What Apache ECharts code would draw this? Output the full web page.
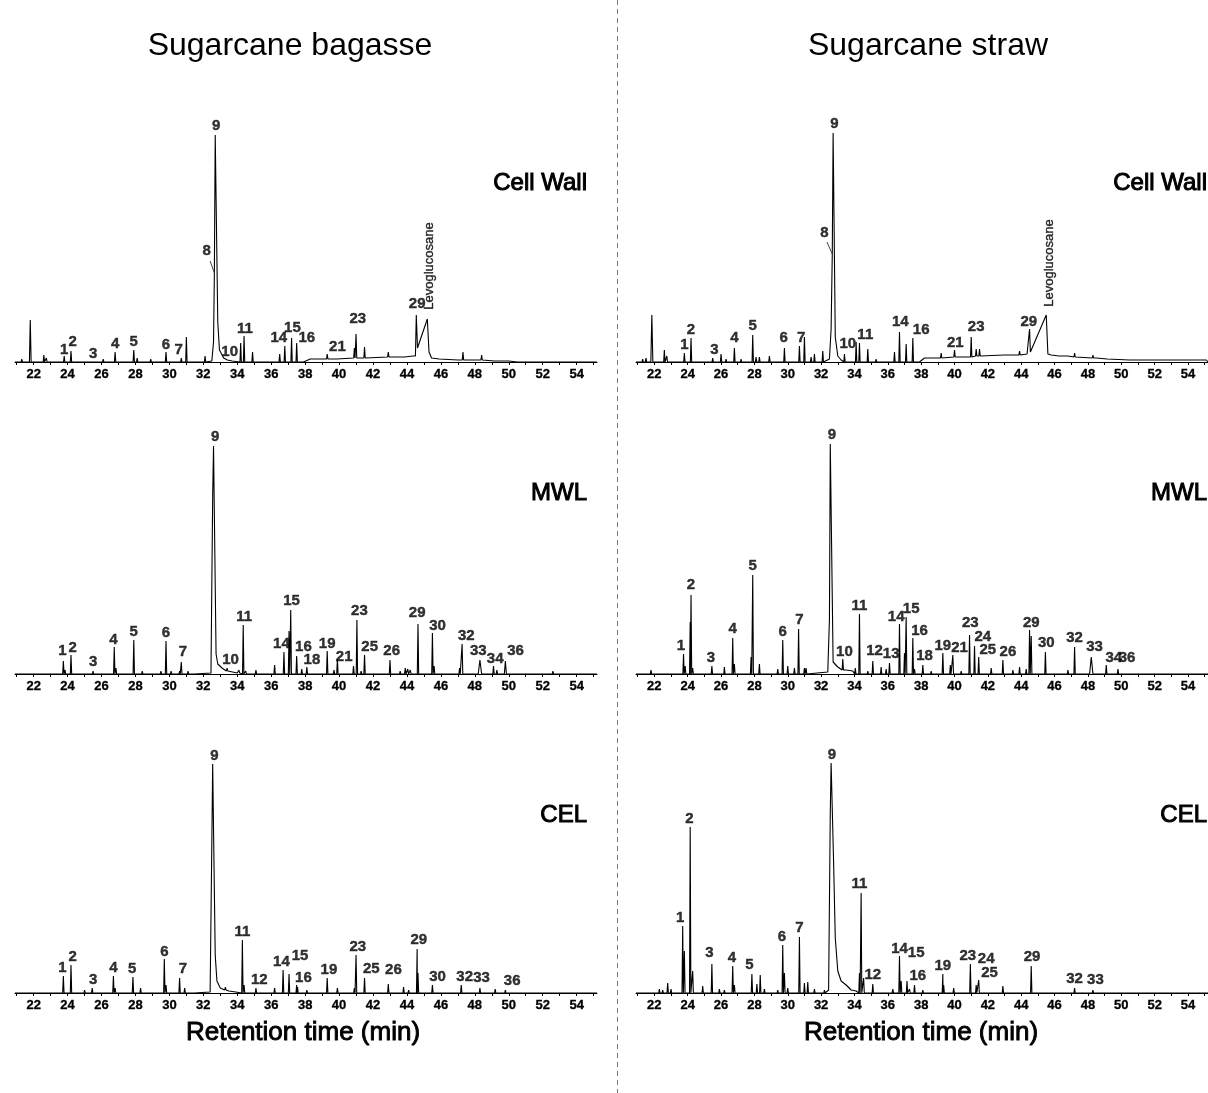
<!DOCTYPE html>
<html lang="en">
<head>
<meta charset="UTF-8">
<title>Py-GC/MS chromatograms - sugarcane bagasse and straw</title>
<script src="https://cdn.jsdelivr.net/npm/echarts@6.0.0/dist/echarts.min.js"></script>
<style>
  body { margin: 0; background: #fff; }
  #main { width: 1208px; height: 1093px; }
</style>
</head>
<body>
<div id="main"></div>
<script>
// retention time axis (min)
const X_MIN = 20.9, X_MAX = 55.2;
const TICKS = [22, 24, 26, 28, 30, 32, 34, 36, 38, 40, 42, 44, 46, 48, 50, 52, 54];

// peaks: [time, height, base, halfWidth] ; shape: explicit trace vertices [time, height]
// heights are in px above the trace baseline of each panel

// Sugarcane bagasse - Cell Wall
const bwPeaks = [[21.3,3],[21.8,42,0,0.05],[22.6,7],[22.75,4],[23.8,6],[24.2,11],[25.5,2],[26.1,3],[26.3,2],[26.8,10],[27.2,2],[27.9,12],[28.1,4],[28.3,2],[28.9,3],[29.8,10],[30.3,2],[30.7,4],[31.0,25],[31.4,2],[32.1,6],
  [33.45,3,2],[34.2,19],[34.4,26],[34.9,10],[35.3,2],[36.5,8],[36.8,16],[37.2,24],[37.5,19],
  [39.3,8,3],[39.45,5,3],[39.9,5,3],[40.9,14,4],[41.0,28,4],[41.5,15,4],[42.9,10,5],[43.9,6,5],
  [47.3,10,2],[48.4,7,2],[49.2,3,1],[49.9,2,1]];
const bwShape = [[32.5,1],[32.6,20],[32.65,89],[32.7,227],[32.8,227],[32.85,40],[32.95,12],[33.2,4],[33.7,1],
  [37.9,0],[38.3,3],[41.6,4],[44.35,6],[44.5,6],[44.55,47],[44.62,14],[45.2,43],[45.3,10],[45.45,4],[45.9,3],[47,2],[50,1],[50.5,0]];
const bwLabels = [['1',23.8,12],['2',24.3,20],['3',25.5,8],['4',26.8,18],['5',27.9,20],['6',29.8,17],['7',30.55,12],['8',32.2,111],['9',32.75,236],['10',33.55,10],['11',34.45,33],['14',36.45,24],['15',37.25,34],['16',38.1,24],['21',39.9,15],['23',41.1,43],['29',44.6,58],['Levoglucosane',45.3,96,90]];
const bwLeader = [[32.4,101],[32.65,89]];

// Sugarcane straw - Cell Wall
const swPeaks = [[21.3,3],[21.5,4],[21.85,47,0,0.06],[22.6,12],[22.75,6],[23.2,2],[23.8,9],[24.2,24],[25.0,2],[25.5,4],[26.0,8],[26.3,3],[26.8,14],[27.2,3],[27.9,27],[28.1,5],[28.3,5],[28.9,6],[29.8,14],[30.3,2],[30.7,16],[31.0,25],[31.4,5],[31.6,8],[32.1,11],
  [33.4,8],[34.1,20],[34.3,19],[34.8,13],[35.3,3],[36.4,10],[36.7,30],[37.1,18],[37.5,24],
  [39.2,9,4],[40.0,12,5],[41.0,25,5],[41.3,13,6],[41.5,13,6],[43.0,9,7],[43.9,11,7],
  [46.3,8,6],[47.2,9,5],[48.3,7,4],[49.2,5,3]];
const swShape = [[32.5,3],[32.6,33],[32.67,108],[32.72,229],[32.8,229],[32.85,25],[33.0,6],[33.2,2],
  [37.9,0],[38.2,4],[41.6,6],[44.35,8],[44.5,33],[44.55,10],[45.5,47],[45.6,8],[45.8,7],[46.8,6],[48.5,4],[50.5,2],[55.1,2]];
const swLabels = [['1',23.8,17],['2',24.2,32],['3',25.6,12],['4',26.8,24],['5',27.9,36],['6',29.75,24],['7',30.8,24],['8',32.2,129],['9',32.8,238],['10',33.6,18],['11',34.65,27],['14',36.75,40],['16',38.0,32],['21',40.05,19],['23',41.3,35],['29',44.45,40],['Levoglucosane',45.7,99,90]];
const swLeader = [[32.35,120],[32.67,108]];

// Sugarcane bagasse - MWL
const bmPeaks = [[21.7,1],[22.9,1],[23.75,13],[23.85,4],[24.2,19],[25.1,2],[25.5,3],[26.2,1],[26.75,27],[26.85,6],[27.6,1],[27.9,34],[28.4,3],[28.7,1],[29.5,3],[29.8,33],[30.1,3],[30.6,3],[30.7,12],[31.1,3],[31.5,1],
  [33.4,6,3],[34.1,4,1],[34.35,49],[34.5,3],[35.1,4],[35.6,2],[36.0,2],[36.2,9],[36.75,22],[37.05,43],[37.15,64],[37.5,18],[37.8,5],[38.1,7],[38.6,1],[39.3,23],[39.7,4],[39.9,15],[40.85,8],[41.05,54],[41.3,3],[41.5,19],[42.3,2],[42.8,2],[43.0,14],[43.6,3],[43.9,6],[44.05,5],[44.2,4],[44.65,50],[45.5,41],[45.6,8],[46.9,2],[47.1,6],[47.25,30],[48.3,14,0,0.1],[49.1,8],[49.3,4],[49.8,13,0,0.06],[50.9,2],[52.6,3],[54.4,2],[54.55,2]];
const bmShape = [[32.45,1],[32.55,177],[32.6,228],[32.68,228],[32.75,20],[32.85,10],[33.1,6],[33.55,3],[34.0,1]];
const bmLabels = [['1',23.7,23],['2',24.3,26],['3',25.5,12],['4',26.7,34],['5',27.9,42],['6',29.8,41],['7',30.8,22],['9',32.7,237],['10',33.6,14],['11',34.4,57],['14',36.6,30],['15',37.2,73],['16',37.9,27],['18',38.4,14],['19',39.3,30],['21',40.3,17],['23',41.2,63],['25',41.8,27],['26',43.1,23],['29',44.6,61],['30',45.8,48],['32',47.5,38],['33',48.2,23],['34',49.2,15],['36',50.4,23]];

// Sugarcane straw - MWL
const smPeaks = [[21.3,2],[21.8,4],[22.5,1],[23.0,1],[23.75,20],[23.85,8],[24.15,52],[24.2,79],[24.3,6],[25.45,8],[26.2,7],[26.7,36],[26.8,10],[27.4,2],[27.8,17],[27.9,99],[28.3,10],[29.4,5],[29.7,34],[30.0,8],[30.4,6],[30.65,45],[31.0,6],[31.1,6],
  [33.3,15,4],[34.05,6],[34.3,60],[34.8,3],[35.1,13],[35.6,7],[35.9,5],[36.1,11],[36.7,50],[37.0,21],[37.1,57],[37.5,36],[37.6,5],[38.1,9],[38.6,3],[39.3,21],[39.75,9],[39.9,19],[40.4,3],[40.9,39],[41.2,28],[41.45,17],[42.2,6],[42.9,14],[43.5,4],[43.9,7],[44.3,5],[44.5,44],[44.6,38],[45.45,22],[46.8,4],[47.2,27],[48.2,17,0,0.1],[49.1,9],[49.8,5],[51,2],[52.6,1],[53.5,1]];
const smShape = [[32.4,2],[32.5,55],[32.55,230],[32.65,230],[32.72,12],[33.0,7],[33.5,4],[33.9,3]];
const smLabels = [['1',23.6,28],['2',24.2,89],['3',25.4,16],['4',26.7,45],['5',27.9,108],['6',29.7,42],['7',30.7,54],['9',32.65,239],['10',33.4,22],['11',34.3,68],['12',35.2,23],['13',36.2,20],['14',36.5,57],['15',37.4,65],['16',37.9,43],['18',38.2,18],['19',39.3,28],['21',40.3,26],['23',40.95,51],['24',41.7,37],['25',42.0,24],['26',43.2,22],['29',44.6,51],['30',45.5,31],['32',47.2,36],['33',48.4,27],['34',49.55,16],['36',50.35,16]];

// Sugarcane bagasse - CEL
const bcPeaks = [[22.6,2],[22.8,2],[23.75,17],[24.2,28],[25.0,3],[25.45,5],[26.7,17],[26.8,5],[27.85,16],[28.3,5],[29.4,2],[29.7,34],[29.8,8],[30.6,15],[30.9,5],[31.5,1],
  [33.3,6,3],[34.3,53],[34.4,8],[35.1,5],[35.7,2],[36.2,5],[36.7,23],[37.05,19],[37.5,8],[37.55,6],[38.1,3],[39.3,15],[39.9,5],[40.9,5],[41.0,38],[41.5,15],[42.9,9],[43.8,6],[44.1,3],[44.6,44],[44.65,20],[45.5,8],[47.2,8],[48.3,5],[49.2,4],[49.8,3],[54.2,1]];
const bcShape = [[32.4,1],[32.5,150],[32.55,229],[32.62,229],[32.7,38],[32.8,12],[33.0,5],[33.5,2],[33.9,1]];
const bcLabels = [['1',23.7,25],['2',24.3,36],['3',25.5,13],['4',26.7,25],['5',27.8,24],['6',29.7,41],['7',30.8,24],['9',32.65,237],['11',34.3,61],['12',35.3,13],['14',36.6,31],['15',37.7,37],['16',37.9,15],['19',39.4,23],['23',41.1,46],['25',41.9,24],['26',43.2,23],['29',44.7,53],['30',45.8,16],['32',47.4,16],['33',48.4,15],['36',50.2,12]];

// Sugarcane straw - CEL
const scPeaks = [[21.2,1],[21.6,1],[22.3,4],[22.5,3],[22.8,10],[23.0,4],[23.7,67],[23.8,42],[24.15,166],[24.3,22],[24.9,7],[25.45,29],[25.9,4],[26.2,3],[26.7,27],[26.8,8],[27.85,19],[28.15,9],[28.35,18],[28.6,4],[29.4,3],[29.7,48],[29.8,20],[30.0,5],[30.7,56],[31.0,10],[31.2,11],[31.6,4],[32.2,3],
  [34.3,20],[34.4,100],[34.55,15],[35.1,9],[36.3,4],[36.7,37],[36.8,12],[37.15,12],[37.3,4],[37.6,8],[38.1,3],[39.3,19],[39.35,8],[39.95,5],[40.95,29],[41.3,8],[41.45,13],[42.9,7],[44.0,2],[44.6,27],[45.6,2],[47.2,5],[48.3,3],[49.3,2]];
const scShape = [[32.45,3],[32.55,180],[32.6,230],[32.68,230],[32.75,130],[32.85,55],[33.0,22],[33.2,12],[33.35,10],[33.5,8],[33.8,3],[34.1,2]];
const scLabels = [['1',23.55,75],['2',24.1,174],['3',25.3,40],['4',26.65,35],['5',27.7,28],['6',29.65,56],['7',30.7,65],['9',32.65,238],['11',34.3,109],['12',35.1,18],['14',36.7,44],['15',37.7,40],['16',37.8,17],['19',39.3,27],['23',40.8,37],['24',41.9,34],['25',42.1,20],['29',44.65,36],['32',47.2,14],['33',48.45,13]];

const FONT = "'Liberation Sans', Arial, Helvetica, sans-serif";

const panels = [
  { peaks: bwPeaks, shape: bwShape, labels: bwLabels, leader: bwLeader, name: 'Cell Wall', left: 15, axisY: 365 },
  { peaks: swPeaks, shape: swShape, labels: swLabels, leader: swLeader, name: 'Cell Wall', left: 636, axisY: 365 },
  { peaks: bmPeaks, shape: bmShape, labels: bmLabels, name: 'MWL', left: 15, axisY: 677 },
  { peaks: smPeaks, shape: smShape, labels: smLabels, name: 'MWL', left: 636, axisY: 677 },
  { peaks: bcPeaks, shape: bcShape, labels: bcLabels, name: 'CEL', left: 15, axisY: 996 },
  { peaks: scPeaks, shape: scShape, labels: scLabels, name: 'CEL', left: 636, axisY: 996 }
];

function buildTrace(peaks, shape) {
  const pts = [[X_MIN, 0], [X_MAX, 0]];
  peaks.forEach(p => {
    const [t, h, b = 0, w = 0.04] = p;
    pts.push([t - w, b], [t, h], [t + w, b]);
  });
  shape.forEach(p => pts.push(p));
  return pts.sort((a, b) => a[0] - b[0]);
}

const minorTicks = [];
for (let t = 21; t <= 55; t += 1) minorTicks.push(t);

// 1 px per unit vertically: y from -3 to 257 over 260 px
const Y_MIN = -3, Y_MAX = 257, GRID_H = 260;

const grid = [], xAxis = [], yAxis = [], series = [], graphic = [];
panels.forEach((p, i) => {
  grid.push({ left: p.left, top: p.axisY - GRID_H, width: 582, height: GRID_H });
  xAxis.push({
    type: 'value', gridIndex: i, min: X_MIN, max: X_MAX,
    axisLine: { lineStyle: { color: '#000', width: 1 } },
    axisTick: { customValues: minorTicks, length: 3, lineStyle: { color: '#000' } },
    axisLabel: { customValues: TICKS, margin: 3, color: '#000', fontSize: 13, fontWeight: 'bold', fontFamily: FONT, textBorderColor: '#000', textBorderWidth: 0.3 },
    splitLine: { show: false }
  });
  yAxis.push({ type: 'value', gridIndex: i, min: Y_MIN, max: Y_MAX, show: false });
  series.push({
    type: 'line', xAxisIndex: i, yAxisIndex: i, data: buildTrace(p.peaks, p.shape),
    showSymbol: false, silent: true, animation: false,
    lineStyle: { color: '#000', width: 1.1 }
  });
  if (p.leader) {
    series.push({
      type: 'line', xAxisIndex: i, yAxisIndex: i, data: p.leader,
      showSymbol: false, silent: true, animation: false,
      lineStyle: { color: '#444', width: 1 }
    });
  }
  series.push({
    type: 'scatter', xAxisIndex: i, yAxisIndex: i, symbolSize: 1, silent: true, animation: false,
    itemStyle: { color: 'rgba(0,0,0,0)' },
    data: p.labels.map(l => ({
      name: l[0], value: [l[1], l[2]],
      label: l[3] ? { rotate: l[3], fontSize: 13, fontWeight: 'normal', textBorderWidth: 0.4 } : undefined
    })),
    label: {
      show: true, position: 'inside', formatter: '{b}', color: '#000',
      fontSize: 15, fontWeight: 'bold', fontFamily: FONT, textBorderColor: '#000', textBorderWidth: 0.4
    }
  });
  const right = p.left < 600 ? 587 : 1207;
  graphic.push({
    type: 'text', x: right, y: p.axisY - (p.name === 'Cell Wall' ? 182 : p.name === 'MWL' ? 184 : 181),
    style: { text: p.name, align: 'right', verticalAlign: 'middle', font: '24px ' + FONT, fill: '#000', stroke: '#000', lineWidth: 1 }
  });
});

graphic.push(
  { type: 'text', x: 290, y: 46, style: { text: 'Sugarcane bagasse', align: 'center', verticalAlign: 'middle', font: '32px ' + FONT, fill: '#000' } },
  { type: 'text', x: 928, y: 46, style: { text: 'Sugarcane straw', align: 'center', verticalAlign: 'middle', font: '32px ' + FONT, fill: '#000' } },
  { type: 'text', x: 303, y: 1033, style: { text: 'Retention time (min)', align: 'center', verticalAlign: 'middle', font: '26px ' + FONT, fill: '#000', stroke: '#000', lineWidth: 0.9 } },
  { type: 'text', x: 921, y: 1033, style: { text: 'Retention time (min)', align: 'center', verticalAlign: 'middle', font: '26px ' + FONT, fill: '#000', stroke: '#000', lineWidth: 0.9 } },
  { type: 'line', shape: { x1: 617.5, y1: 0, x2: 617.5, y2: 1093 }, style: { stroke: '#777', lineWidth: 1, lineDash: [5, 4] } }
);

const chart = echarts.init(document.getElementById('main'));
chart.setOption({
  backgroundColor: '#fff',
  animation: false,
  grid, xAxis, yAxis, series, graphic
});
</script>
</body>
</html>
